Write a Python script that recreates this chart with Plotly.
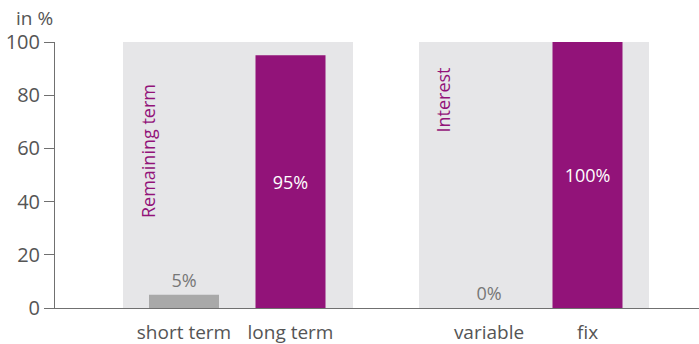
import plotly.graph_objects as go

# Data
categories = ["short term", "long term", "variable", "fix"]
values = [5, 95, 0, 100]
groups = ["Remaining term", "Interest"]
y_ticks = [0, 20, 40, 60, 80, 100]

# Layout / style (x axis uses pixel-like units across the plot area)
x_pos = [184, 290.5, 489, 587.5]
bar_width = 70
panel_spans = [(123, 353), (419, 649)]
group_label_x = [148, 443]
group_label_y = [59, 78]
text_positions = ["outside", "inside", "outside", "inside"]
PURPLE = "#921379"
GRAY_BAR = "#a9a9a9"
PANEL = "#e6e6e8"
AXIS = "#707070"
TEXT = "#555555"
FONT = "Open Sans"
bar_colors = [GRAY_BAR, PURPLE, GRAY_BAR, PURPLE]

fig = go.Figure()
fig.add_trace(go.Bar(
    x=x_pos, y=values, width=bar_width,
    marker=dict(color=bar_colors, line=dict(width=0)),
    text=[f"{v}%" for v in values],
    textposition=text_positions,
    insidetextanchor="middle",
    insidetextfont=dict(color="white", size=18, family=FONT),
    outsidetextfont=dict(color="#777777", size=18, family=FONT),
    cliponaxis=False,
    hoverinfo="skip",
))

for x0, x1 in panel_spans:
    fig.add_shape(type="rect", xref="x", yref="y", x0=x0, x1=x1, y0=0, y1=100,
                  fillcolor=PANEL, line=dict(width=0), layer="below")

for g, gx, gy in zip(groups, group_label_x, group_label_y):
    fig.add_annotation(text=g, x=gx, y=gy, xref="x", yref="y", textangle=-90,
                       showarrow=False, font=dict(color=PURPLE, size=18, family=FONT))

fig.add_annotation(text="in %", x=-21 / 644, y=1.09, xref="paper", yref="paper",
                   showarrow=False, font=dict(color=TEXT, size=19, family=FONT),
                   xanchor="center", yanchor="middle")

fig.update_layout(
    width=699, height=344,
    margin=dict(l=55, r=0, t=42, b=36),
    plot_bgcolor="white", paper_bgcolor="white",
    showlegend=False,
    font=dict(family=FONT, color=TEXT, size=18),
    xaxis=dict(range=[55, 699], tickvals=x_pos, ticktext=categories,
               showline=True, linecolor=AXIS, linewidth=1, showgrid=False,
               zeroline=False, ticks="outside", ticklen=7, automargin=False,
               tickcolor="rgba(0,0,0,0)", tickfont=dict(size=19, color=TEXT)),
    yaxis=dict(range=[0, 100], tickvals=y_ticks, showline=True, linecolor=AXIS,
               linewidth=1, showgrid=False, zeroline=False, ticks="outside",
               ticklen=10, tickcolor=AXIS, automargin=False,
               tickfont=dict(size=20, color=TEXT)),
)

fig.write_html("out.html")
